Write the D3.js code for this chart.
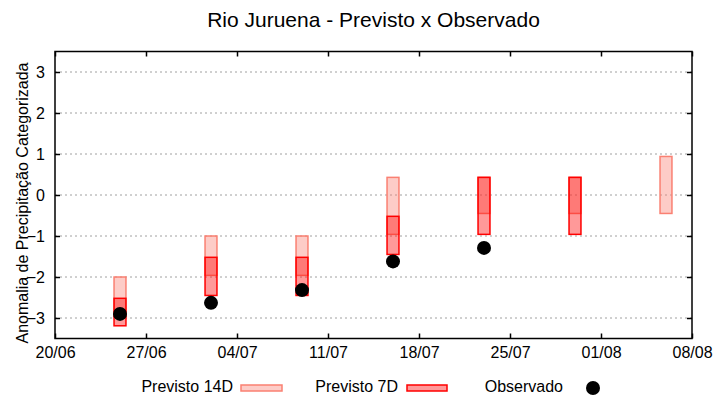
<!DOCTYPE html>
<meta charset="utf-8">
<script src="https://d3js.org/d3.v7.min.js"></script>
<style>
 body { margin: 0; background: #fff; }
 svg text { font-family: "Liberation Sans", Arial, sans-serif; fill: #000; }
</style>
<div id="chart"></div>
<script>

 // data
 const dates = ["2023-06-25", "2023-07-02", "2023-07-09", "2023-07-16", "2023-07-23", "2023-07-30", "2023-08-06"];
 const prev14Top    = [-2.00, -1.00, -1.00,  0.43,  0.43,  0.43,  0.94];
 const prev14Bottom = [-2.96, -1.96, -1.96, -0.96, -0.45, -0.45, -0.45];
 const prev7Top     = [-2.52, -1.52, -1.52, -0.52,  0.43,  0.43, null];
 const prev7Bottom  = [-3.19, -2.45, -2.45, -1.45, -0.96, -0.96, null];
 const observed     = [-2.90, -2.63, -2.32, -1.62, -1.29, null, null];
 const yTicks = [-3, -2, -1, 0, 1, 2, 3];
 const xTickDates = ["2023-06-20", "2023-06-27", "2023-07-04", "2023-07-11", "2023-07-18", "2023-07-25", "2023-08-01", "2023-08-08"];
 const xTickLabels = ["20/06", "27/06", "04/07", "11/07", "18/07", "25/07", "01/08", "08/08"];

 const W = 720, H = 400;
 const margin = {top: 51.5, right: 28, bottom: 61.5, left: 55};
 const width = W - margin.left - margin.right,
       height = H - margin.top - margin.bottom;

 const parse = d3.utcParse("%Y-%m-%d");
 const tickDates = xTickDates.map(parse);

 const svg = d3.select("#chart").append("svg")
               .attr("width", W).attr("height", H);

 const g = svg.append("g").attr("transform", `translate(${margin.left},${margin.top})`);

 const x = d3.scaleUtc().domain([tickDates[0], tickDates[tickDates.length - 1]]).range([0, width]);
 const y = d3.scaleLinear().domain([-3.5, 3.5]).range([height, 0]);

 // grid
 g.append("g").selectAll("line").data(yTicks).join("line")
  .attr("x1", 0).attr("x2", width)
  .attr("y1", d => y(d)).attr("y2", d => y(d))
  .attr("stroke", "#a0a0a0").attr("stroke-width", 1)
  .attr("stroke-dasharray", "2,3");

 const rows = dates.map((d, i) => ({
   date: parse(d), t14: prev14Top[i], b14: prev14Bottom[i],
   t7: prev7Top[i], b7: prev7Bottom[i], obs: observed[i]
 }));

 const halfBox = 11 * 3600 * 1000; // half box width, 11 hours
 const bx = d => x(new Date(d.date.getTime() - halfBox));
 const bw = d => x(new Date(d.date.getTime() + halfBox)) - bx(d);

 // previsto 14D
 g.append("g").selectAll("rect").data(rows.filter(d => d.t14 != null)).join("rect")
  .attr("x", bx).attr("width", bw)
  .attr("y", d => y(d.t14)).attr("height", d => y(d.b14) - y(d.t14))
  .attr("fill", "salmon").attr("fill-opacity", 0.4)
  .attr("stroke", "salmon").attr("stroke-width", 1.5);

 // previsto 7D
 g.append("g").selectAll("rect").data(rows.filter(d => d.t7 != null)).join("rect")
  .attr("x", bx).attr("width", bw)
  .attr("y", d => y(d.t7)).attr("height", d => y(d.b7) - y(d.t7))
  .attr("fill", "red").attr("fill-opacity", 0.4)
  .attr("stroke", "red").attr("stroke-width", 1.5);

 // observado
 g.append("g").selectAll("circle").data(rows.filter(d => d.obs != null)).join("circle")
  .attr("cx", d => x(d.date)).attr("cy", d => y(d.obs)).attr("r", 7)
  .attr("fill", "#000");

 // axes
 const axisStyle = sel => {
   sel.select(".domain").remove();
   sel.selectAll("line").attr("stroke", "#000").attr("stroke-width", 1.5);
   sel.selectAll("text").style("font-size", "16px").style("font-family", "Liberation Sans, Arial, sans-serif");
 };

 g.append("g").attr("transform", `translate(0,${height})`)
  .call(d3.axisBottom(x).tickValues(tickDates).tickFormat((d, i) => xTickLabels[i]).tickSizeInner(-5).tickSizeOuter(0).tickPadding(8))
  .call(axisStyle);

 g.append("g")
  .call(d3.axisTop(x).tickValues(tickDates).tickFormat("").tickSizeInner(-5).tickSizeOuter(0))
  .call(axisStyle);

 g.append("g")
  .call(d3.axisLeft(y).tickValues(yTicks).tickFormat(d3.format("d")).tickSizeInner(-5).tickSizeOuter(0).tickPadding(10))
  .call(axisStyle);

 g.append("g").attr("transform", `translate(${width},0)`)
  .call(d3.axisRight(y).tickValues(yTicks).tickFormat("").tickSizeInner(-5).tickSizeOuter(0))
  .call(axisStyle);

 // frame
 g.append("rect").attr("width", width).attr("height", height)
  .attr("fill", "none").attr("stroke", "#000").attr("stroke-width", 1.5);

 // title and y label
 svg.append("text").attr("x", margin.left + width / 2).attr("y", 27)
    .attr("text-anchor", "middle").style("font-size", "21px")
    .text("Rio Juruena - Previsto x Observado");

 svg.append("text").attr("transform", "translate(27.5,203)rotate(-90)")
    .attr("text-anchor", "middle").style("font-size", "16px")
    .text("Anomalia de Precipitação Categorizada");

 // legend
 const legend = svg.append("g");
 legend.append("text").attr("x", 233).attr("y", 391.5).attr("text-anchor", "end")
       .style("font-size", "16px").text("Previsto 14D");
 legend.append("rect").attr("x", 241).attr("y", 385).attr("width", 41).attr("height", 6)
       .attr("fill", "salmon").attr("fill-opacity", 0.4).attr("stroke", "salmon").attr("stroke-width", 1.5);
 legend.append("text").attr("x", 398).attr("y", 391.5).attr("text-anchor", "end")
       .style("font-size", "16px").text("Previsto 7D");
 legend.append("rect").attr("x", 407).attr("y", 385).attr("width", 40).attr("height", 6)
       .attr("fill", "red").attr("fill-opacity", 0.4).attr("stroke", "red").attr("stroke-width", 1.5);
 legend.append("text").attr("x", 563).attr("y", 391.5).attr("text-anchor", "end")
       .style("font-size", "16px").text("Observado");
 legend.append("circle").attr("cx", 593).attr("cy", 388).attr("r", 7).attr("fill", "#000");

</script>
